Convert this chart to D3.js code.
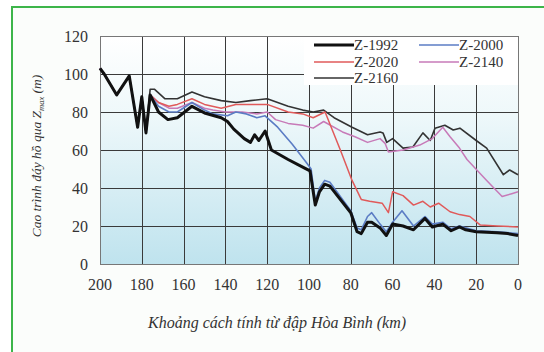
<!DOCTYPE html>
<html>
<head>
<meta charset="utf-8">
<script src="https://cdn.jsdelivr.net/npm/d3@7"></script>
<style>
  html, body { margin: 0; padding: 0; background: #fff; }
  svg { display: block; }
  text { font-family: "Liberation Serif", "Times New Roman", serif; }
</style>
</head>
<body>
<svg id="chart" width="544" height="352"></svg>
<script>
// distance from Hoa Binh dam (km) and bed level Zmax (m)
const start = [[200,103],[198,100],[192,89],[189,94],[186,99],[182,72],[180,88],[178,69],[176,89]];

const z1992 = start.concat([[172,80],[167.5,76],[163,77],[156,83],[150,79.5],[142,77],[139,75],[136,71],[134,69],[131,66],[128,64],[126,68],[124,65],[121,70],[118,60],[110,55],[103,51],[99.5,49],[97,31],[95,38],[92.5,42],[90,41],[80,27],[77,17],[75,16],[72,22],[70,22],[66,19],[63,15],[60,21],[55,20],[50,18],[44.5,24],[41,19.5],[36,21],[32,17.5],[28,19.5],[25,18],[20,17],[10,16.5],[5,16],[0,15]]);

const z2000 = start.concat([[172,83],[167,80],[163,80],[156,85],[150,81],[146,79],[139,78],[135,80],[130,79],[125,77],[121,78],[115,72],[108,63],[101,53],[99,50],[97,33],[95,40],[92.5,44],[90,43],[80,28],[77,19],[75,18],[72,25],[70,27],[66,21],[63,17],[60,22],[55.5,28],[50,20],[44.5,25],[41,21],[36,22],[32,18.5],[28,20],[20,17.5],[10,17],[0,16]]);

const z2020 = start.concat([[172,85],[167,83],[163,84],[156,87],[150,84],[142,82],[135,84],[128,84],[120,84],[110,80],[103,79],[98,77],[92.3,80],[85,60],[79.4,44],[75,34],[71,33],[65,32],[62,27],[60,38],[55,36],[50,31],[45.5,33],[42,30],[38,32],[32.5,27.5],[28,26],[23,25],[18,20.5],[10,20],[0,19.5]]);

const z2140 = start.concat([[172,85],[167,82],[163,82],[156,85],[150,82],[146,81],[140,80],[132,80],[125,79],[120,80],[116,76],[110,74],[103,73],[98,71.5],[93,75],[84,69.5],[78,67],[72,64],[66,66],[63.6,63.5],[62,59],[55,60],[47,62.6],[41,66],[36,72],[32.5,67],[28,61],[24.4,55],[15,44],[7.6,35.5],[3,37],[0,38]]);

const z2160 = start.slice(0, 8).concat([[176,92],[174,92],[169,87],[163,87],[156,90.5],[150,88],[142,86],[135,85],[128,86],[120,87],[110,83],[103,81],[98,80],[93,81],[88,77],[79.4,72],[72,68],[66,69.5],[64.6,69],[62.8,64],[60,66],[55,61],[50.3,61.6],[45.5,69],[42,65],[39.7,71.5],[35,73],[31,70.5],[27.8,71.5],[20,65],[15,61],[7,47],[4,49.5],[0,47]]);

const seriesNames = ["Z-1992", "Z-2000", "Z-2020", "Z-2140", "Z-2160"];
const seriesData = [z1992, z2000, z2020, z2140, z2160];
const seriesColors = ["#111111", "#5b7cc4", "#e05a5a", "#c77ab8", "#333333"];
const seriesWidths = [3, 1.6, 1.5, 1.5, 1.6];

const xTicks = [200, 180, 160, 140, 120, 100, 80, 60, 40, 20, 0];
const yTicks = [0, 20, 40, 60, 80, 100, 120];

const svg = d3.select("#chart");

// light panel with the green frame running off the right and bottom
svg.append("rect").attr("x", 12).attr("y", 7).attr("width", 540).attr("height", 350)
  .attr("fill", "#fbfdfb").attr("stroke", "#3db54a").attr("stroke-width", 2);

const x = d3.scaleLinear().domain([200, 0]).range([100, 518]);
const y = d3.scaleLinear().domain([0, 120]).range([264, 36]);

const defs = svg.append("defs");
const grad = defs.append("linearGradient").attr("id", "bg").attr("x1", 0).attr("y1", 0).attr("x2", 0).attr("y2", 1);
grad.append("stop").attr("offset", "0%").attr("stop-color", "#ffffff");
grad.append("stop").attr("offset", "35%").attr("stop-color", "#eef8fa");
grad.append("stop").attr("offset", "100%").attr("stop-color", "#bfe3ee");

svg.append("rect")
  .attr("x", x(200)).attr("y", y(120))
  .attr("width", x(0) - x(200)).attr("height", y(0) - y(120))
  .attr("fill", "url(#bg)");

// grid
const grid = svg.append("g").attr("stroke", "#3a3a3a").attr("stroke-width", 1);
grid.selectAll("line.h").data(yTicks).enter().append("line")
  .attr("x1", x(200)).attr("x2", x(0))
  .attr("y1", d => Math.round(y(d)) + 0.5).attr("y2", d => Math.round(y(d)) + 0.5);
grid.selectAll("line.v").data(xTicks).enter().append("line")
  .attr("y1", y(120)).attr("y2", y(0))
  .attr("x1", d => Math.round(x(d)) + 0.5).attr("x2", d => Math.round(x(d)) + 0.5);

svg.append("rect")
  .attr("x", x(200) + 0.5).attr("y", y(120) + 0.5)
  .attr("width", x(0) - x(200)).attr("height", y(0) - y(120))
  .attr("fill", "none").attr("stroke", "#777").attr("stroke-width", 1);

// series
const line = d3.line().x(d => x(d[0])).y(d => y(d[1]));
const order = [4, 3, 2, 1, 0];
svg.append("g").selectAll("path").data(order).enter().append("path")
  .attr("d", i => line(seriesData[i]))
  .attr("fill", "none")
  .attr("stroke", i => seriesColors[i])
  .attr("stroke-width", i => seriesWidths[i])
  .attr("stroke-linejoin", "round");

// legend
const lg = svg.append("g");
lg.append("rect").attr("x", 304).attr("y", y(120) + 1).attr("width", x(0) - 304).attr("height", 48)
  .attr("fill", "#ffffff");
const legPos = [[314, 45], [419, 45], [314, 62], [419, 62], [314, 78]];
seriesNames.forEach((name, i) => {
  const p = legPos[i];
  lg.append("line").attr("x1", p[0]).attr("x2", p[0] + 40).attr("y1", p[1]).attr("y2", p[1])
    .attr("stroke", seriesColors[i]).attr("stroke-width", seriesWidths[i]);
  lg.append("text").attr("x", p[0] + 40).attr("y", p[1] + 5)
    .attr("font-size", 15).attr("fill", "#333")
    .text(name);
});

// axes labels
svg.append("g").selectAll("text").data(yTicks).enter().append("text")
  .attr("x", 88).attr("y", d => y(d) + 5.5)
  .attr("text-anchor", "end")
  .attr("font-size", 16).attr("fill", "#333")
  .text(d => d);

svg.append("g").selectAll("text").data(xTicks).enter().append("text")
  .attr("x", d => x(d)).attr("y", 290)
  .attr("text-anchor", "middle")
  .attr("font-size", 16).attr("fill", "#333")
  .text(d => d);

svg.append("text")
  .attr("x", 277).attr("y", 328).attr("text-anchor", "middle")
  .attr("font-style", "italic")
  .attr("font-size", 16).attr("fill", "#333")
  .text("Khoảng cách tính từ đập Hòa Bình (km)");

const yt = svg.append("text")
  .attr("transform", "translate(41,156) rotate(-90)").attr("text-anchor", "middle")
  .attr("font-style", "italic")
  .attr("font-size", 13.5).attr("fill", "#333");
yt.append("tspan").text("Cao trình đáy hồ qua Z");
yt.append("tspan").attr("font-size", 8.5).attr("dy", 3).text("max");
yt.append("tspan").attr("dy", -3).text(" (m)");
</script>
</body>
</html>
